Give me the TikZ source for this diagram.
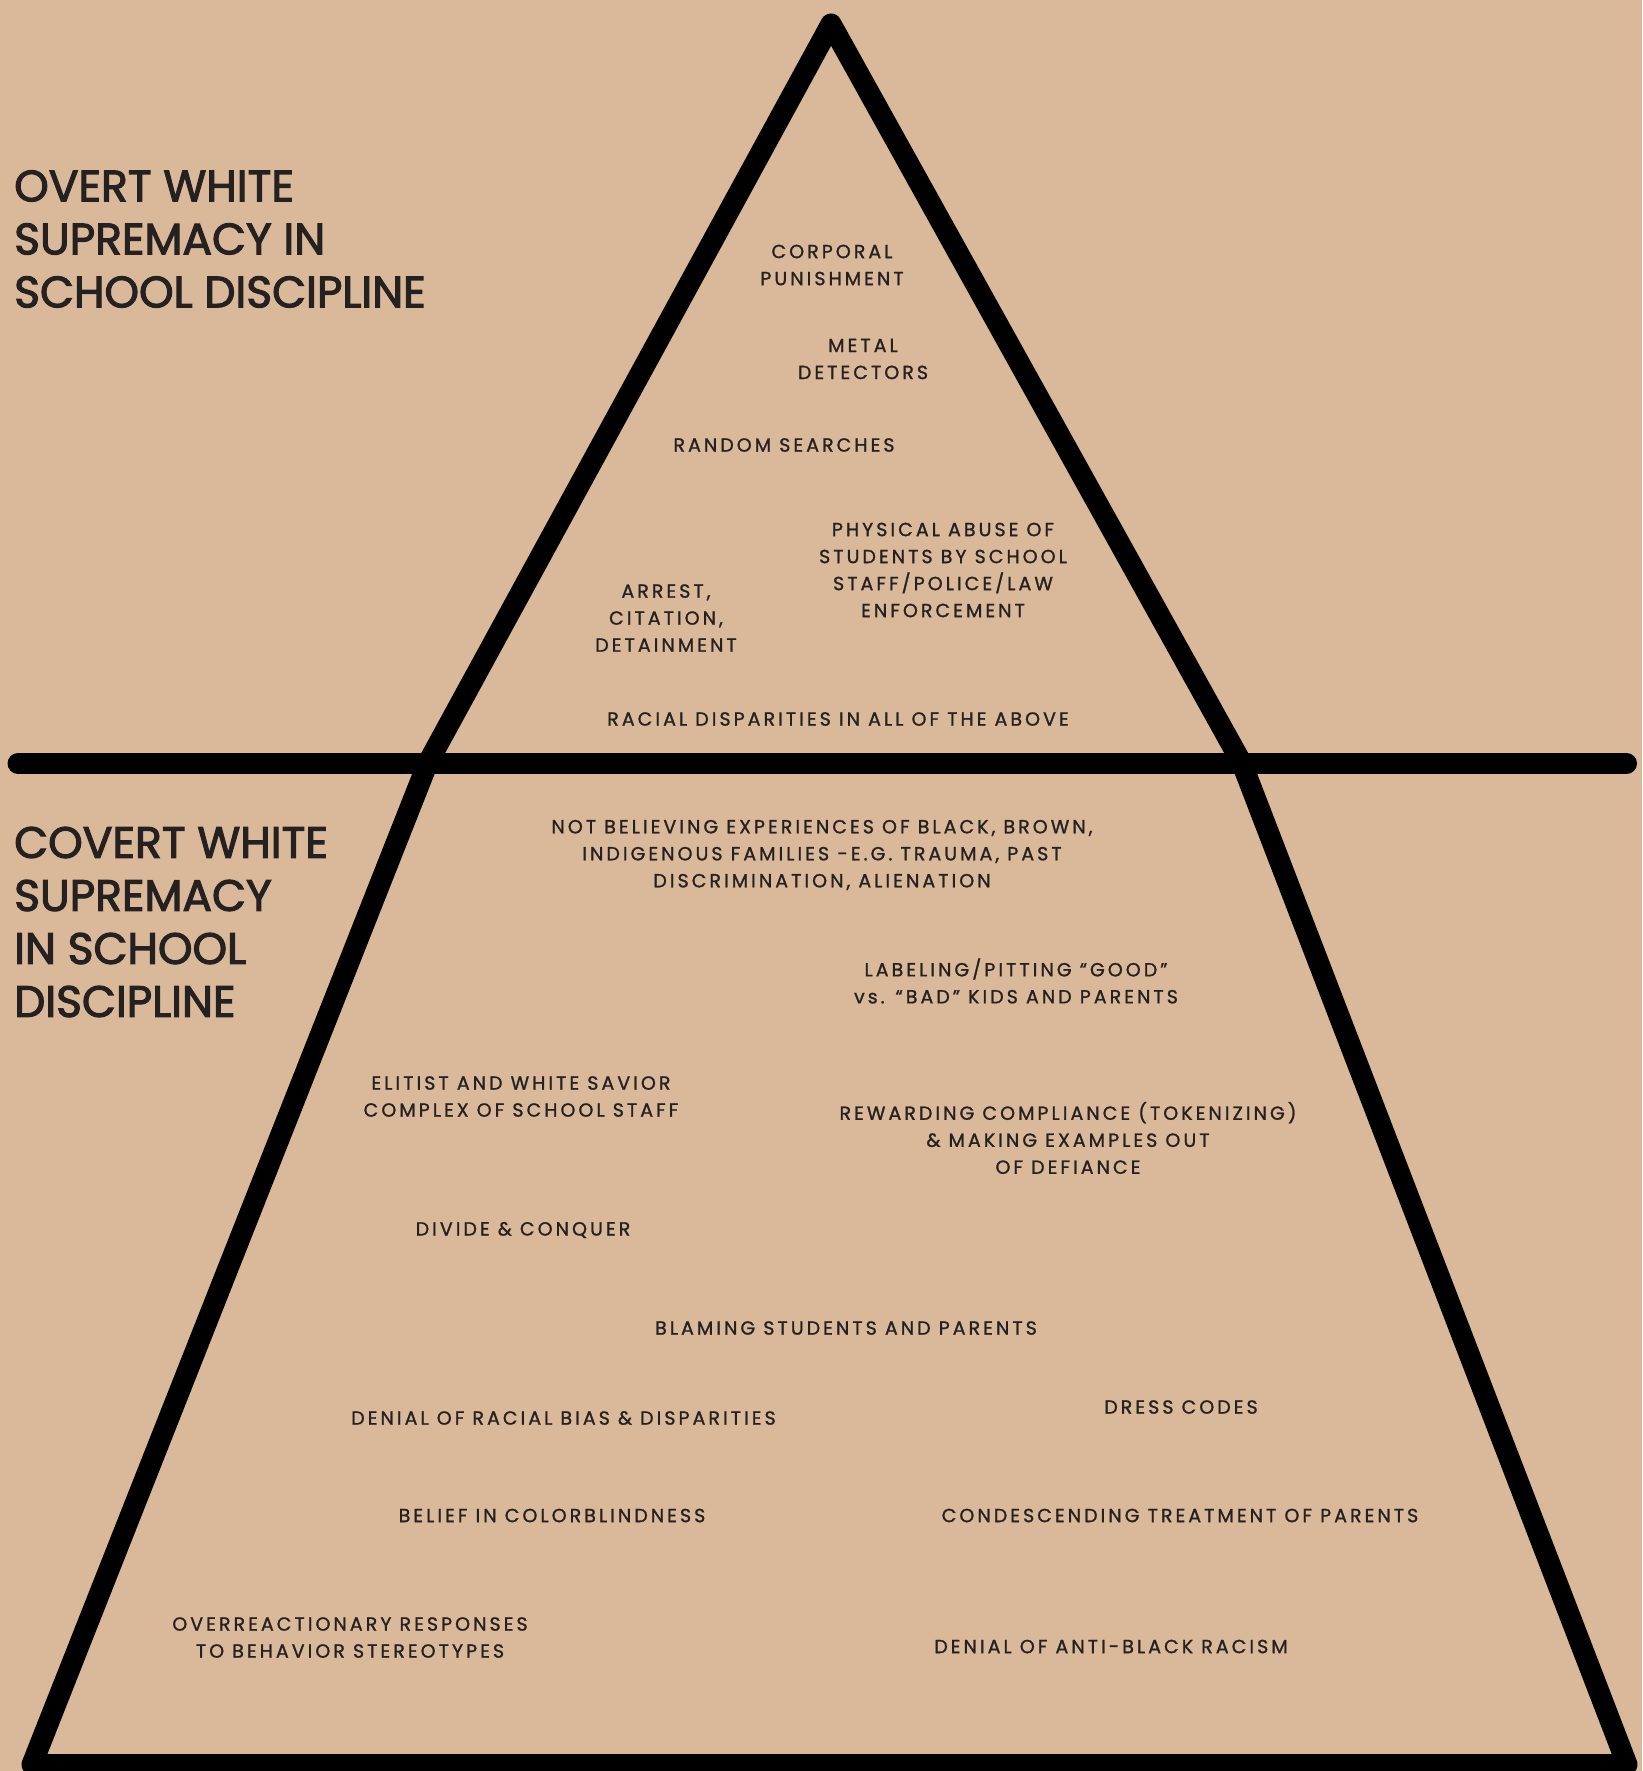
\documentclass[tikz,border=0pt]{standalone}
\usepackage{fontspec}
\setmainfont{Poppins}
\newfontfamily\bodyfont[LetterSpace=16,FakeBold=1.2]{Poppins}
\newfontfamily\headfont[FakeBold=2.5]{Poppins}
\definecolor{bg}{RGB}{218,185,155}
\definecolor{ink}{RGB}{38,33,33}
\begin{document}
\begin{tikzpicture}[x=1pt,y=-1pt,
  lbl/.style={font=\bodyfont\fontsize{19}{27}\selectfont, align=center, text=ink, inner sep=0pt},
  head/.style={font=\headfont\fontsize{44}{53}\selectfont, align=left, anchor=west, text=ink, inner sep=0pt},
  frame/.style={line width=21pt, line join=round, line cap=round, draw=black}]
\fill[bg] (0,0) rectangle (1642,1771);
\useasboundingbox (0,0) rectangle (1642,1771);
\coordinate (apex) at (831,24);
\coordinate (ul) at (427.5,763.5);
\coordinate (ur) at (1242,763.5);
\coordinate (bl) at (32,1764.5);
\coordinate (br) at (1627,1764.5);
\coordinate (hl) at (18,763.5);
\coordinate (hr) at (1626.5,763.5);
\draw[frame] (apex) -- (ul) -- (bl) -- (br) -- (ur) -- cycle;
\draw[frame] (hl) -- (hr);

\node[head] (overt) at (14,239) {OVERT WHITE\\SUPREMACY IN\\SCHOOL DISCIPLINE};
\node[head] (covert) at (14,922) {COVERT WHITE\\SUPREMACY\\IN SCHOOL\\DISCIPLINE};

\node[lbl] (t1) at (832,265) {CORPORAL\\PUNISHMENT};
\node[lbl] (t2) at (863,359) {METAL\\DETECTORS};
\node[lbl] (t3) at (784,445) {RANDOM SEARCHES};
\node[lbl] (t4) at (943,570) {PHYSICAL ABUSE OF\\STUDENTS BY SCHOOL\\STAFF/POLICE/LAW\\ENFORCEMENT};
\node[lbl] (t5) at (666,618) {ARREST,\\CITATION,\\DETAINMENT};
\node[lbl] (t6) at (838,719) {RACIAL DISPARITIES IN ALL OF THE ABOVE};
\node[lbl] (t7) at (822,855) {NOT BELIEVING EXPERIENCES OF BLACK, BROWN,\\INDIGENOUS FAMILIES -E.G. TRAUMA, PAST\\DISCRIMINATION, ALIENATION};
\node[lbl] (t8) at (1016,981) {LABELING/PITTING “GOOD”\\vs. “BAD” KIDS AND PARENTS};
\node[lbl] (t9) at (521,1096.5) {ELITIST AND WHITE SAVIOR\\COMPLEX OF SCHOOL STAFF};
\node[lbl] (t10) at (1068,1138) {REWARDING COMPLIANCE (TOKENIZING)\\\& MAKING EXAMPLES OUT\\OF DEFIANCE};
\node[lbl] (t11) at (523,1230) {DIVIDE \& CONQUER};
\node[lbl] (t12) at (846,1328) {BLAMING STUDENTS AND PARENTS};
\node[lbl] (t13) at (563.5,1418) {DENIAL OF RACIAL BIAS \& DISPARITIES};
\node[lbl] (t14) at (1181,1407) {DRESS CODES};
\node[lbl] (t15) at (552,1515.5) {BELIEF IN COLORBLINDNESS};
\node[lbl] (t16) at (1180,1515.5) {CONDESCENDING TREATMENT OF PARENTS};
\node[lbl] (t17) at (350,1637.5) {OVERREACTIONARY RESPONSES\\TO BEHAVIOR STEREOTYPES};
\node[lbl] (t18) at (1111,1646.5) {DENIAL OF ANTI-BLACK RACISM};
\end{tikzpicture}
\end{document}
